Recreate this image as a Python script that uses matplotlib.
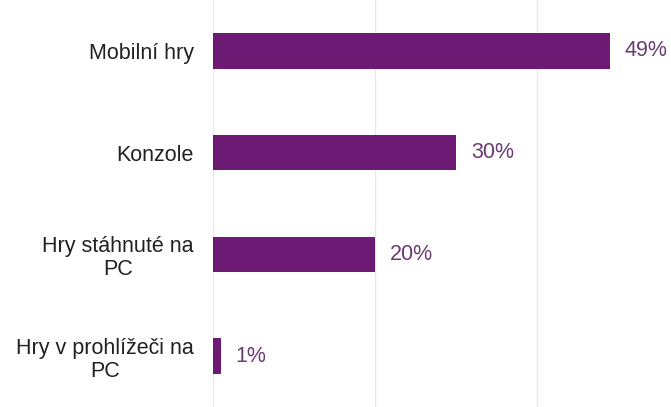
import matplotlib
matplotlib.use("Agg")
import matplotlib.pyplot as plt

categories = ["Mobilní hry", "Konzole", "Hry stáhnuté na\nPC", "Hry v prohlížeči na\nPC"]
values = [49, 30, 20, 1]
value_labels = ["49%", "30%", "20%", "1%"]

plt.rcParams["font.family"] = ["Liberation Sans", "DejaVu Sans"]

bar_color = "#6c1a73"
label_color = "#6a3a72"

fig = plt.figure(figsize=(6.71, 4.07), dpi=100)
ax = fig.add_axes([213/671, 0, 1 - 213/671, 1])
y = list(range(len(categories)))
ax.barh(y, values, height=0.35, color=bar_color, zorder=3)
ax.set_xlim(0, 56.5)
ax.set_ylim(3.5, -0.5)
ax.set_xticks([0, 20, 40])
ax.xaxis.grid(True, color="#e8e8ee", linewidth=1, zorder=0)
ax.tick_params(axis="x", length=0, labelbottom=False)
ax.tick_params(axis="y", length=0, pad=14)
ax.set_yticks(y)
ax.set_yticklabels(categories, fontsize=15.5, color="#222222", ha="right",
                   multialignment="center", linespacing=1.15)
for spine in ax.spines.values():
    spine.set_visible(False)
for yi, v, lab in zip(y, values, value_labels):
    ax.text(v + 1.8, yi, lab, va="center", ha="left", fontsize=15.5, color=label_color)

fig.savefig("out.png", dpi=100)
